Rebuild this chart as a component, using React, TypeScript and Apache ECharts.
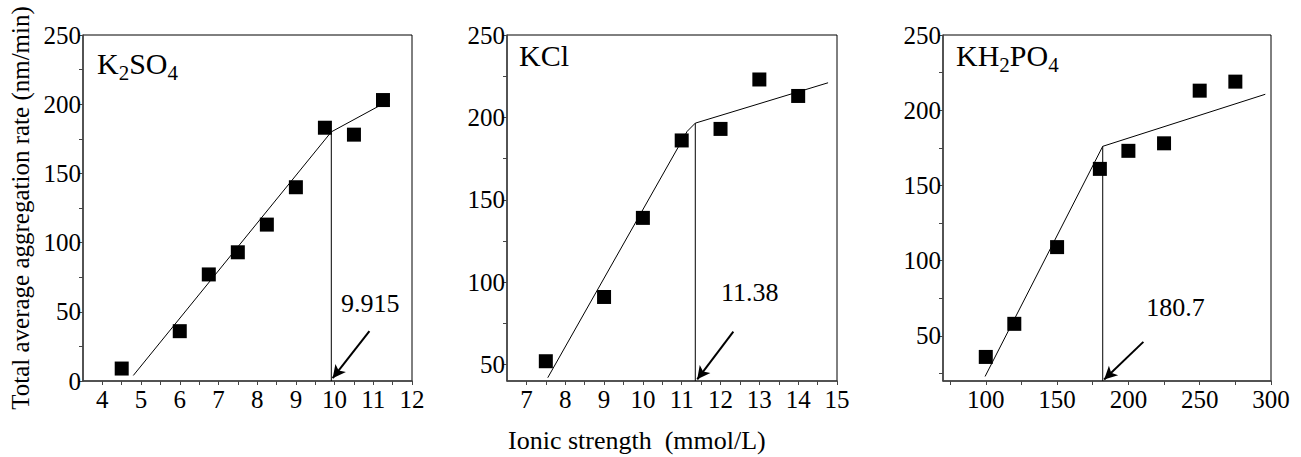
import React, { useEffect, useRef } from "react";
import * as echarts from "echarts";

const FONT = "Liberation Serif";

// ---------- Data ----------
// Panel 1: K2SO4
const k2so4X = [4.5, 6, 6.75, 7.5, 8.25, 9, 9.75, 10.5, 11.25];
const k2so4Y = [9, 36, 77, 93, 113, 140, 183, 178, 203];
const k2so4FitLow = [[4.8, 4], [9.915, 180]];
const k2so4FitHigh = [[9.915, 180], [11.43, 203]];
const k2so4Break = [9.915, 180];
const k2so4Arrow = [[10.9, 36], [9.95, 2]];
const k2so4Note = { value: [10.92, 56], text: "9.915" };

// Panel 2: KCl
const kclX = [7.5, 9, 10, 11, 12, 13, 14];
const kclY = [52, 91, 139, 186, 193, 223, 213];
const kclFitLow = [[7.55, 42], [11.14, 191.5], [11.35, 196.5]];
const kclFitHigh = [[11.35, 196.5], [14.77, 221]];
const kclBreak = [11.35, 196.5];
const kclArrow = [[12.33, 70], [11.4, 41]];
const kclNote = { value: [12.75, 94], text: "11.38" };

// Panel 3: KH2PO4
const kh2po4X = [100, 120, 150, 180, 200, 225, 250, 275];
const kh2po4Y = [36, 58, 109, 161, 173, 178, 213, 219];
const kh2po4FitLow = [[99.5, 23], [182, 176]];
const kh2po4FitHigh = [[182, 176], [296, 210.6]];
const kh2po4Break = [182, 176];
const kh2po4Arrow = [[210.5, 46], [183, 21]];
const kh2po4Note = { value: [233, 69], text: "180.7" };

// Axis ranges & ticks
const xRanges = [[3.5, 12], [6.5, 15], [70, 300]];
const yRanges = [[0, 250], [40, 250], [20, 250]];
const xLabels1 = [4, 5, 6, 7, 8, 9, 10, 11, 12];
const xTicks1 = [4, 4.5, 5, 5.5, 6, 6.5, 7, 7.5, 8, 8.5, 9, 9.5, 10, 10.5, 11, 11.5, 12];
const xLabels2 = [7, 8, 9, 10, 11, 12, 13, 14, 15];
const xTicks2 = [7, 7.5, 8, 8.5, 9, 9.5, 10, 10.5, 11, 11.5, 12, 12.5, 13, 13.5, 14, 14.5, 15];
const xLabels3 = [100, 150, 200, 250, 300];
const xTicks3 = [75, 100, 125, 150, 175, 200, 225, 250, 275, 300];
const yLabels1 = [0, 50, 100, 150, 200, 250];
const yTicks1 = [0, 25, 50, 75, 100, 125, 150, 175, 200, 225, 250];
const yLabels2 = [50, 100, 150, 200, 250];
const yTicks2 = [50, 75, 100, 125, 150, 175, 200, 225, 250];
const yLabels3 = [50, 100, 150, 200, 250];
const yTicks3 = [25, 50, 75, 100, 125, 150, 175, 200, 225, 250];

const panelTitles = [
  "{n|K}{s|2}{n|SO}{s|4}",
  "{n|KCl}",
  "{n|KH}{s|2}{n|PO}{s|4}",
];
const yAxisTitle = "Total average aggregation rate (nm/min)";
const xAxisTitle = "Ionic strength  (mmol/L)";

// ---------- Layout ----------
const grids = [
  { left: 83, top: 35, width: 329, height: 346 },
  { left: 507, top: 35, width: 330, height: 346 },
  { left: 943, top: 35, width: 328, height: 346 },
];
const titlePos = [
  { left: 97, top: 43 },
  { left: 519, top: 35 },
  { left: 956, top: 35 },
];

const panels = [
  { xs: k2so4X, ys: k2so4Y, low: k2so4FitLow, high: k2so4FitHigh, brk: k2so4Break, arrow: k2so4Arrow, note: k2so4Note, xl: xLabels1, xt: xTicks1, yl: yLabels1, yt: yTicks1 },
  { xs: kclX, ys: kclY, low: kclFitLow, high: kclFitHigh, brk: kclBreak, arrow: kclArrow, note: kclNote, xl: xLabels2, xt: xTicks2, yl: yLabels2, yt: yTicks2 },
  { xs: kh2po4X, ys: kh2po4Y, low: kh2po4FitLow, high: kh2po4FitHigh, brk: kh2po4Break, arrow: kh2po4Arrow, note: kh2po4Note, xl: xLabels3, xt: xTicks3, yl: yLabels3, yt: yTicks3 },
];

function buildOption() {
  const axisLine = { show: true, lineStyle: { color: "#444", width: 1.5 } };
  const labelStyle = { color: "#000", fontFamily: FONT, fontSize: 25 };
  const xAxis = panels.map((p, i) => ({
    type: "value",
    gridIndex: i,
    min: xRanges[i][0],
    max: xRanges[i][1],
    splitLine: { show: false },
    axisLine,
    axisTick: { show: true, inside: false, length: 4, customValues: p.xt, lineStyle: { color: "#444" } },
    axisLabel: { ...labelStyle, margin: 6, customValues: p.xl },
  }));
  const yAxis = panels.map((p, i) => ({
    type: "value",
    gridIndex: i,
    min: yRanges[i][0],
    max: yRanges[i][1],
    splitLine: { show: false },
    axisLine,
    axisTick: { show: true, inside: false, length: 4, customValues: p.yt, lineStyle: { color: "#444" } },
    axisLabel: { ...labelStyle, margin: 2, customValues: p.yl },
    ...(i === 0
      ? {
          name: yAxisTitle,
          nameLocation: "middle",
          nameRotate: 90,
          nameGap: 50,
          nameTextStyle: { color: "#000", fontFamily: FONT, fontSize: 25 },
        }
      : {}),
  }));

  const series: any[] = [];
  panels.forEach((p, i) => {
    const common = { xAxisIndex: i, yAxisIndex: i, silent: true };
    series.push({
      ...common,
      type: "line",
      data: p.low,
      symbol: "none",
      lineStyle: { color: "#000", width: 1 },
      z: 2,
    });
    series.push({
      ...common,
      type: "line",
      data: p.high,
      symbol: "none",
      lineStyle: { color: "#000", width: 1 },
      z: 2,
    });
    series.push({
      ...common,
      type: "line",
      data: [p.brk, [p.brk[0], yRanges[i][0]]],
      symbol: "none",
      lineStyle: { color: "#000", width: 1 },
      z: 2,
      markLine: {
        silent: true,
        symbol: ["none", "arrow"],
        symbolSize: [10, 13],
        label: { show: false },
        lineStyle: { color: "#000", width: 2, type: "solid" },
        data: [[{ coord: p.arrow[0] }, { coord: p.arrow[1] }]],
      },
    });
    series.push({
      ...common,
      type: "scatter",
      data: p.xs.map((x, k) => [x, p.ys[k]]),
      symbol: "rect",
      symbolSize: 14,
      itemStyle: { color: "#000", opacity: 1 },
      z: 3,
    });
    series.push({
      ...common,
      type: "scatter",
      data: [{ value: p.note.value, name: p.note.text }],
      symbolSize: 1,
      itemStyle: { color: "#fff", opacity: 1 },
      label: {
        show: true,
        position: "inside",
        formatter: "{b}",
        color: "#000",
        fontFamily: FONT,
        fontSize: 26,
      },
      z: 4,
    });
  });

  const title = panelTitles.map((t, i) => ({
    text: t,
    left: titlePos[i].left,
    top: titlePos[i].top,
    padding: 0,
    textStyle: {
      fontWeight: "normal",
      rich: {
        n: { fontFamily: FONT, fontSize: 30, fontWeight: "normal", color: "#000", lineHeight: 40 },
        s: { fontFamily: FONT, fontSize: 21, fontWeight: "normal", color: "#000", lineHeight: 21, verticalAlign: "bottom" },
      },
    },
  }));

  return {
    animation: false,
    backgroundColor: "#fff",
    title,
    grid: grids.map((g) => ({
      ...g,
      show: true,
      borderColor: "#000",
      borderWidth: 1,
      backgroundColor: "transparent",
      containLabel: false,
      outerBoundsMode: "none",
    })),
    xAxis,
    yAxis,
    series,
    graphic: [
      {
        type: "text",
        left: 508,
        top: 427,
        style: { text: xAxisTitle, fill: "#000", font: `26px "${FONT}"` },
      },
    ],
  };
}

export default function App() {
  const ref = useRef<HTMLDivElement>(null);
  useEffect(() => {
    if (!ref.current) return;
    const chart = echarts.init(ref.current, undefined, { renderer: "svg" });
    chart.setOption(buildOption() as any);
    return () => chart.dispose();
  }, []);
  return (
    <div
      ref={ref}
      style={{ position: "fixed", left: 0, top: 0, width: 1301, height: 457, background: "#fff" }}
    />
  );
}
